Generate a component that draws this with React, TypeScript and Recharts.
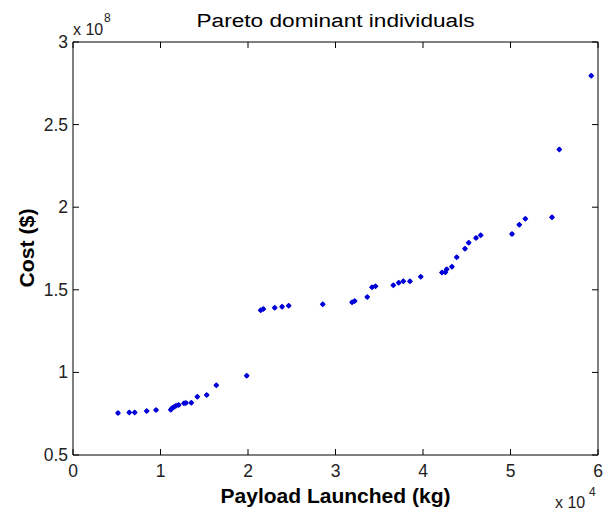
import { ScatterChart, Scatter, XAxis, YAxis, ReferenceLine } from 'recharts';

// payload launched (kg) and cost ($) of each Pareto dominant individual
const payload = [
  5140, 6430, 7050, 8420, 9490, 11170, 11310, 11540, 11770, 12080, 12690, 12910,
  13520, 14210, 15280, 16380, 19850, 21450, 21750, 23050, 23890, 24650, 28540,
  31890, 32190, 33630, 34170, 34570, 36610, 37220, 37750, 38510, 39740, 42170,
  42550, 42710, 43310, 43850, 44800, 45220, 46060, 46590, 50170, 51010, 51690,
  54740, 55580, 59230,
];
const cost = [
  75.4e6, 75.8e6, 75.8e6, 76.6e6, 77.2e6, 77.4e6, 78.3e6, 79.1e6, 79.8e6, 80.3e6,
  81.3e6, 81.5e6, 81.7e6, 85.3e6, 86.3e6, 92.2e6, 98.0e6, 137.6e6, 138.4e6,
  139.2e6, 139.8e6, 140.4e6, 141.2e6, 142.4e6, 143.2e6, 145.6e6, 151.5e6,
  152.1e6, 152.7e6, 154.3e6, 155.1e6, 155.1e6, 157.9e6, 160.4e6, 160.6e6,
  162.4e6, 164.0e6, 169.7e6, 174.9e6, 178.5e6, 181.4e6, 183.0e6, 183.8e6,
  189.4e6, 193.0e6, 193.9e6, 235.0e6, 279.6e6,
];
const xTicks = [0, 10000, 20000, 30000, 40000, 50000, 60000];
const yTicks = [0.5e8, 1e8, 1.5e8, 2e8, 2.5e8, 3e8];

const points = payload.map((p, i) => ({ payload: p, cost: cost[i] }));

// plot box (set by the margins below)
const TOP = 42;
const BOTTOM = 455;
const LEFT = 73;
const RIGHT = 598;
const TICK = 6;
const FONT = '"Liberation Sans", Arial, sans-serif';

const XTick = ({ x, payload: p }: any) => (
  <g>
    <line x1={x} y1={BOTTOM} x2={x} y2={BOTTOM - TICK} stroke="#000" />
    <line x1={x} y1={TOP} x2={x} y2={TOP + TICK} stroke="#000" />
    <text x={x} y={477} textAnchor="middle" fontSize={17.5} fontFamily={FONT} fill="#222">
      {p.value / 10000}
    </text>
  </g>
);

const YTick = ({ y, payload: p }: any) => (
  <g>
    <line x1={LEFT} y1={y} x2={LEFT + TICK} y2={y} stroke="#000" />
    <line x1={RIGHT} y1={y} x2={RIGHT - TICK} y2={y} stroke="#000" />
    <text x={68} y={y + 6} textAnchor="end" fontSize={17.5} fontFamily={FONT} fill="#222">
      {p.value / 1e8}
    </text>
  </g>
);

const Dot = ({ cx, cy }: any) => (
  <g>
    <polygon
      points={`${cx},${cy - 3} ${cx + 3},${cy} ${cx},${cy + 3} ${cx - 3},${cy}`}
      fill="#0000d8"
    />
    <circle cx={cx} cy={cy} r={2.1} fill="#0000d8" />
  </g>
);

export default function App() {
  return (
    <div style={{ position: 'absolute', left: 0, top: 0, width: 610, height: 513, background: '#fff' }}>
      <ScatterChart
        width={610}
        height={513}
        margin={{ top: 42, right: 12, bottom: 0, left: 8 }}
      >
        <XAxis
          type="number"
          dataKey="payload"
          domain={[0, 60000]}
          ticks={xTicks}
          height={58}
          tick={<XTick />}
          tickLine={false}
          axisLine={{ stroke: '#000' }}
          interval={0}
        />
        <YAxis
          type="number"
          dataKey="cost"
          domain={[0.5e8, 3e8]}
          ticks={yTicks}
          width={65}
          tick={<YTick />}
          tickLine={false}
          axisLine={{ stroke: '#000' }}
          interval={0}
        />
        <ReferenceLine y={3e8} stroke="#000" />
        <ReferenceLine x={60000} stroke="#000" />
        <Scatter data={points} shape={<Dot />} isAnimationActive={false} />
      </ScatterChart>
      <svg
        width={610}
        height={513}
        style={{ position: 'absolute', left: 0, top: 0, pointerEvents: 'none' }}
        fontFamily={FONT}
      >
        <text
          x={(LEFT + RIGHT) / 2}
          y={27}
          textAnchor="middle"
          fontSize={18}
          textLength={278}
          lengthAdjust="spacingAndGlyphs"
        >
          Pareto dominant individuals
        </text>
        <text x={73} y={35} fontSize={16} fill="#222">x 10</text>
        <text x={104} y={22} fontSize={12} fill="#222">8</text>
        <text
          x={(LEFT + RIGHT) / 2}
          y={503}
          textAnchor="middle"
          fontSize={20}
          fontWeight="bold"
          textLength={230}
          lengthAdjust="spacingAndGlyphs"
        >
          Payload Launched (kg)
        </text>
        <text x={555} y={508} fontSize={16} fill="#222">x 10</text>
        <text x={589} y={496} fontSize={12} fill="#222">4</text>
        <text
          transform="translate(34, 248) rotate(-90)"
          textAnchor="middle"
          fontSize={20}
          fontWeight="bold"
          textLength={79}
          lengthAdjust="spacingAndGlyphs"
        >
          Cost ($)
        </text>
      </svg>
    </div>
  );
}
